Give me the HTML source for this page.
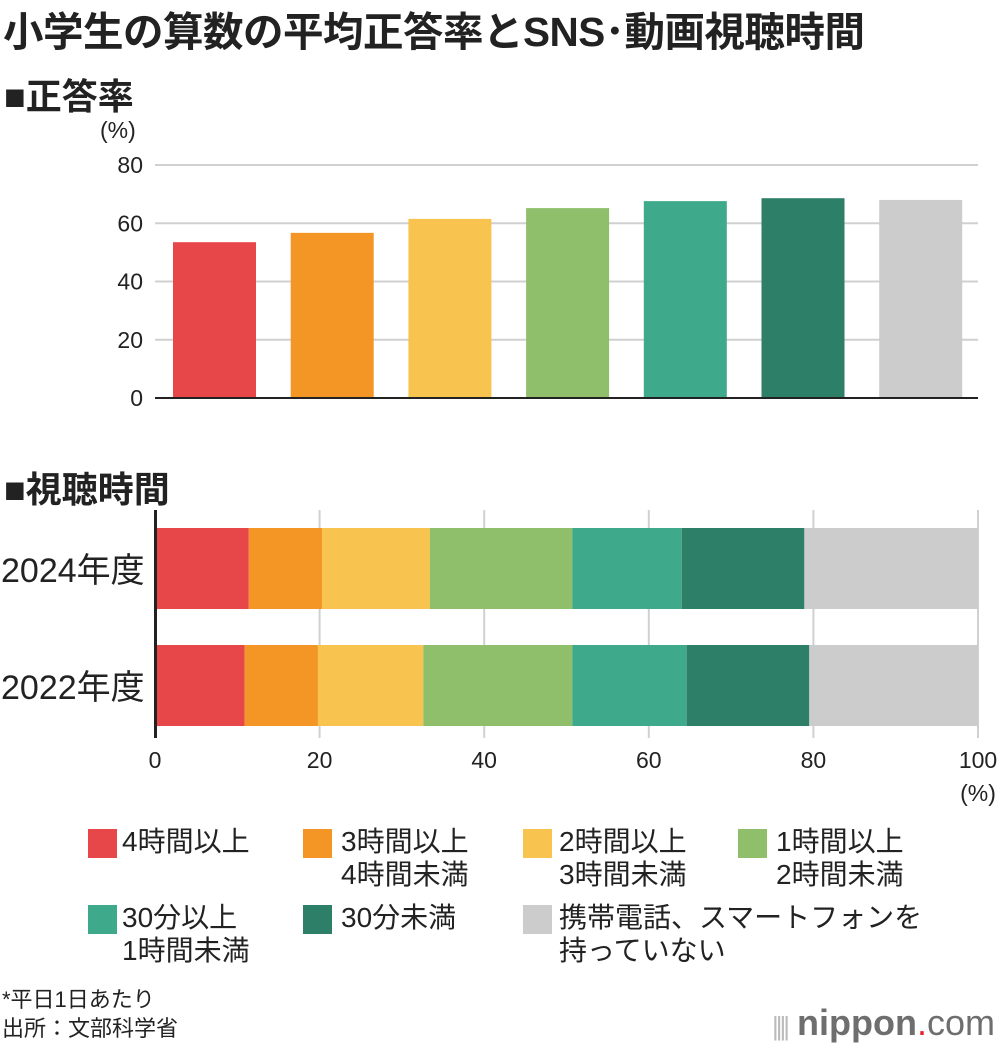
<!DOCTYPE html>
<html><head><meta charset="utf-8"><style>
body{margin:0;background:#fff;font-family:"Liberation Sans","Noto Sans CJK JP",sans-serif;color:#222}
#root{position:relative;width:1000px;height:1048px;overflow:hidden}
.t{position:absolute;white-space:nowrap}
.lg{position:absolute;font-size:28px;line-height:33px;white-space:nowrap}
.sw{position:absolute;width:29px;height:29px}
</style></head><body><div id="root">
<div class="t" style="left:3px;top:-1px;font-size:40.5px;font-weight:bold;letter-spacing:-0.5px">小学生の算数の平均正答率とSNS･動画視聴時間</div>
<div class="t" style="left:4px;top:68px;font-size:36px;font-weight:bold">■正答率</div>
<div class="t" style="left:4px;top:461px;font-size:36px;font-weight:bold">■視聴時間</div>
<svg id="svg" width="1000" height="1048" style="position:absolute;left:0;top:0"></svg>
<div>
<div class="sw" style="left:88px;top:829px;background:#e8474a"></div><div class="lg" style="left:122px;top:825px">4時間以上</div>
<div class="sw" style="left:303px;top:829px;background:#f39626"></div><div class="lg" style="left:341px;top:825px">3時間以上<br>4時間未満</div>
<div class="sw" style="left:523px;top:829px;background:#f8c44f"></div><div class="lg" style="left:559px;top:825px">2時間以上<br>3時間未満</div>
<div class="sw" style="left:738px;top:829px;background:#8fbf6b"></div><div class="lg" style="left:776px;top:825px">1時間以上<br>2時間未満</div>
<div class="sw" style="left:88px;top:905px;background:#3eaa8b"></div><div class="lg" style="left:122px;top:901px">30分以上<br>1時間未満</div>
<div class="sw" style="left:303px;top:905px;background:#2d7f68"></div><div class="lg" style="left:341px;top:901px">30分未満</div>
<div class="sw" style="left:523px;top:905px;background:#cccccc"></div><div class="lg" style="left:559px;top:901px">携帯電話、スマートフォンを<br>持っていない</div>
</div>
<div class="t" style="left:2px;top:985px;font-size:22px;line-height:29px">*平日1日あたり<br>出所：文部科学省</div>
<div class="t" style="left:772px;top:1002px;font-size:36px;color:#6e6e6e"><span style="color:#bbb;font-size:26px;letter-spacing:-3px">||||</span> <b>nippon</b><span style="color:#e8222b">.</span>com</div>
</div>
<script>
const colors=["#e8474a","#f39626","#f8c44f","#8fbf6b","#3eaa8b","#2d7f68","#cccccc"];
const categories=["4時間以上","3時間以上4時間未満","2時間以上3時間未満","1時間以上2時間未満","30分以上1時間未満","30分未満","持っていない"];
const accuracy=[53.5,56.7,61.5,65.2,67.6,68.6,68.0];
const yTicks=[0,20,40,60,80];
const years=["2024年度","2022年度"];
const share2024=[11.4,8.9,13.1,17.3,13.3,14.9,21.1];
const share2022=[10.9,8.9,12.8,18.1,13.9,14.9,20.5];
const xTicks=[0,20,40,60,80,100];
const svg=document.getElementById('svg');
function mk(tag,attrs,text){const e=document.createElementNS('http://www.w3.org/2000/svg',tag);for(const k in attrs)e.setAttribute(k,attrs[k]);if(text!==undefined)e.textContent=text;svg.appendChild(e);return e;}
const FONT='"Liberation Sans","Noto Sans CJK JP",sans-serif';
const y=v=>398-v*(398-165)/80;
yTicks.forEach(t=>{
 if(t>0){const l=mk('line',{x1:155,x2:978,y1:y(t),y2:y(t),stroke:'#d0d0d0','stroke-width':2});
 }
 const tx=mk('text',{x:143,y:y(t)+8,'text-anchor':'end','font-size':23,'font-family':FONT,fill:'#222'},String(t));
 
});
const u=mk('text',{x:100,y:138,'font-size':23,'font-family':FONT,fill:'#222'},'(%)');

accuracy.forEach((v,i)=>{
 const x=173+i*117.7;
 const r=mk('rect',{x:x,y:y(v),width:83,height:y(0)-y(v),fill:colors[i]});
 
});
const base=mk('line',{x1:155,x2:978,y1:398,y2:398,stroke:'#222','stroke-width':2});

const x=v=>155+v*(978-155)/100;
xTicks.forEach(t=>{
 const l=mk('line',{x1:x(t),x2:x(t),y1:510,y2:738,stroke:t===0?'#222':'#d0d0d0','stroke-width':2});
 
 const tx=mk('text',{x:x(t),y:768,'text-anchor':'middle','font-size':23,'font-family':FONT,fill:'#222'},String(t));
 
});
const u2=mk('text',{x:978,y:801,'text-anchor':'middle','font-size':23,'font-family':FONT,fill:'#222'},'(%)');

[share2024,share2022].forEach((arr,j)=>{
 const top=528+j*117;let c=0;
 arr.forEach((v,i)=>{
  const r=mk('rect',{x:x(c),y:top,width:x(c+v)-x(c),height:81,fill:colors[i]});
  
  c+=v;
 });
 const lb=mk('text',{x:1,y:top+54,'font-size':34,'font-family':FONT,fill:'#222'},years[j]);
 
});
const ax=mk('line',{x1:156,x2:156,y1:510,y2:738,stroke:'#222','stroke-width':2});

</script></body></html>
